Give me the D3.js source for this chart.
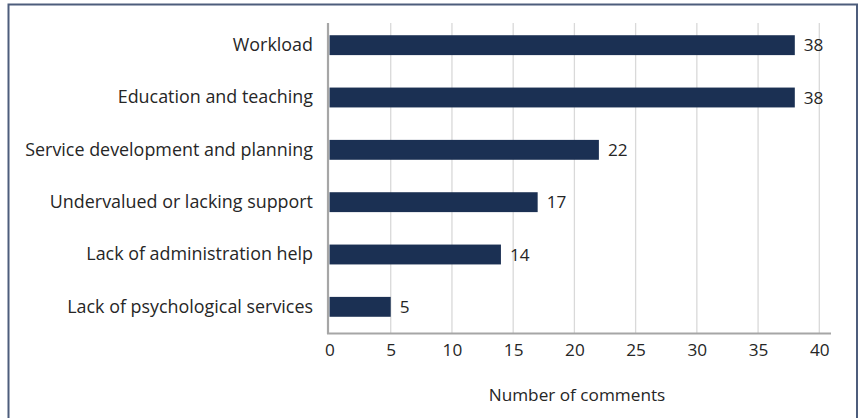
<!DOCTYPE html>
<html>
<head>
<meta charset="utf-8">
<script src="https://cdn.jsdelivr.net/npm/d3@7"></script>
<style>
  html, body { margin: 0; padding: 0; background: #fff; }
  svg { display: block; }
  text { font-family: "Open Sans", "Noto Sans", sans-serif; fill: #262626; }
</style>
</head>
<body>
<svg id="chart" width="861" height="418"></svg>
<script>
const categories = [
  "Workload",
  "Education and teaching",
  "Service development and planning",
  "Undervalued or lacking support",
  "Lack of administration help",
  "Lack of psychological services"
];
const values = [38, 38, 22, 17, 14, 5];
const xTicks = [0, 5, 10, 15, 20, 25, 30, 35, 40];
const xAxisTitle = "Number of comments";

const FONT = "'Open Sans', 'Noto Sans', sans-serif";
const FS_CAT = 17.9;
const FS = 17.2;

const svg = d3.select("#chart");

// outer frame
svg.append("rect")
  .attr("x", 8.5).attr("y", 4.5)
  .attr("width", 848.5).attr("height", 430)
  .attr("fill", "none")
  .attr("stroke", "#4d5d7c")
  .attr("stroke-width", 2);

const x = d3.scaleLinear().domain([0, 40]).range([329.5, 819.3]);
const y = d3.scaleBand().domain(categories).range([19, 333])
  .paddingInner(0.62).paddingOuter(0.31);

// gridlines
svg.append("g").selectAll("line")
  .data(xTicks.filter(d => d > 0))
  .join("line")
  .attr("x1", d => x(d)).attr("x2", d => x(d))
  .attr("y1", 23).attr("y2", 333)
  .attr("stroke", "#d9d9d9").attr("stroke-width", 1.3);

// bars
svg.append("g").selectAll("rect")
  .data(values)
  .join("rect")
  .attr("x", x(0))
  .attr("y", (d, i) => y(categories[i]))
  .attr("width", d => x(d) - x(0))
  .attr("height", y.bandwidth())
  .attr("fill", "#1b3053");

// value labels
svg.append("g").selectAll("text")
  .data(values)
  .join("text")
  .attr("x", d => x(d) + 9)
  .attr("y", (d, i) => y(categories[i]) + y.bandwidth() / 2)
  .attr("dy", "0.35em")
  .attr("font-size", FS)
  .text(d => d);

// axes lines
svg.append("line")
  .attr("x1", 328).attr("x2", 328).attr("y1", 23).attr("y2", 334)
  .attr("stroke", "#a6a6a6").attr("stroke-width", 2.2);
svg.append("line")
  .attr("x1", 327).attr("x2", 831).attr("y1", 333.5).attr("y2", 333.5)
  .attr("stroke", "#a6a6a6").attr("stroke-width", 2.2);

// x axis ticks via d3 axis
const xAxis = d3.axisBottom(x).tickValues(xTicks).tickSize(0).tickPadding(10);
const gx = svg.append("g").attr("transform", "translate(0,334)").call(xAxis);
gx.select(".domain").remove();
gx.selectAll("text")
  .attr("font-family", FONT)
  .attr("font-size", FS)
  .attr("fill", "#262626");

// y axis labels via d3 axis
const yAxis = d3.axisLeft(y).tickSize(0).tickPadding(16);
const gy = svg.append("g").attr("transform", "translate(329,0)").call(yAxis);
gy.select(".domain").remove();
gy.selectAll("text")
  .attr("font-family", FONT)
  .attr("font-size", FS_CAT)
  .attr("fill", "#262626");

// axis title
svg.append("text")
  .attr("x", 577).attr("y", 395)
  .attr("dy", "0.35em")
  .attr("text-anchor", "middle")
  .attr("font-size", FS)
  .text(xAxisTitle);
</script>
</body>
</html>
